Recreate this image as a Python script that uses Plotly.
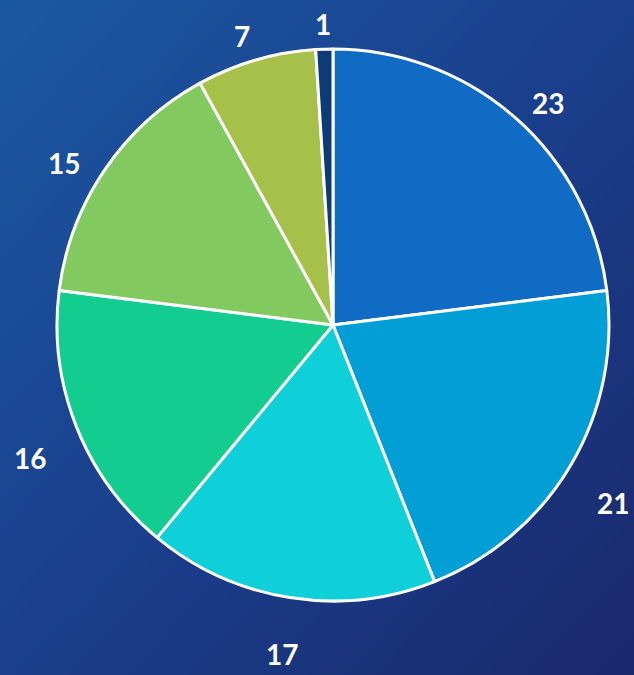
import numpy as np
import plotly.graph_objects as go

labels = ["A", "B", "C", "D", "E", "F", "G"]
values = [23, 21, 17, 16, 15, 7, 1]
colors = ["#106bc4", "#029fd6", "#0fcfd8", "#13cd90", "#82c95f", "#a7c049", "#0c3b78"]

W, H = 634, 675
cx, cy_top = 333, 325      # pie centre in pixels (from top)
R = 276                    # radius in pixels
cy = H - cy_top

fig = go.Figure()

# gradient background via heatmap
n = 60
gx = np.linspace(0, 1, n)
gy = np.linspace(0, 1, n)
Z = (gx[None, :] + (1 - gy[:, None])) / 2.0
fig.add_trace(go.Heatmap(
    x=gx, y=gy, z=Z, showscale=False, hoverinfo="skip",
    colorscale=[[0, "#1b58a2"], [0.5, "#1a3f8c"], [1, "#1a286c"]],
    zsmooth="best",
))

fig.add_trace(go.Pie(
    labels=labels, values=values, sort=False, direction="clockwise",
    rotation=0,
    marker=dict(colors=colors, line=dict(color="white", width=3)),
    textinfo="none", showlegend=False,
    domain=dict(x=[(cx - R) / W, (cx + R) / W], y=[(cy - R) / H, (cy + R) / H]),
))

# labels outside, placed at each slice's mid angle
total = sum(values)
cum = 0
annotations = []
lrx, lry, loff = R * 1.18, R * 1.15, 16
for v in values:
    mid = cum + v / 2
    cum += v
    ang = np.deg2rad(90 - mid / total * 360)
    annotations.append(dict(
        x=(cx + lrx * np.cos(ang)) / W, y=(cy - loff + lry * np.sin(ang)) / H,
        xref="paper", yref="paper", xanchor="center", yanchor="middle",
        text=f"<b>{v}</b>", showarrow=False,
        font=dict(family="Lato", size=28, color="white"),
    ))

fig.update_layout(
    width=W, height=H, margin=dict(l=0, r=0, t=0, b=0),
    paper_bgcolor="#1a3f8c", plot_bgcolor="#1a3f8c",
    xaxis=dict(visible=False, range=[0, 1], domain=[0, 1], fixedrange=True),
    yaxis=dict(visible=False, range=[0, 1], domain=[0, 1], fixedrange=True),
    annotations=annotations,
)

fig.write_html(
    "out.html",
    config={"displayModeBar": False},
    post_script="document.body.style.margin='0';document.body.style.overflow='hidden';",
)
